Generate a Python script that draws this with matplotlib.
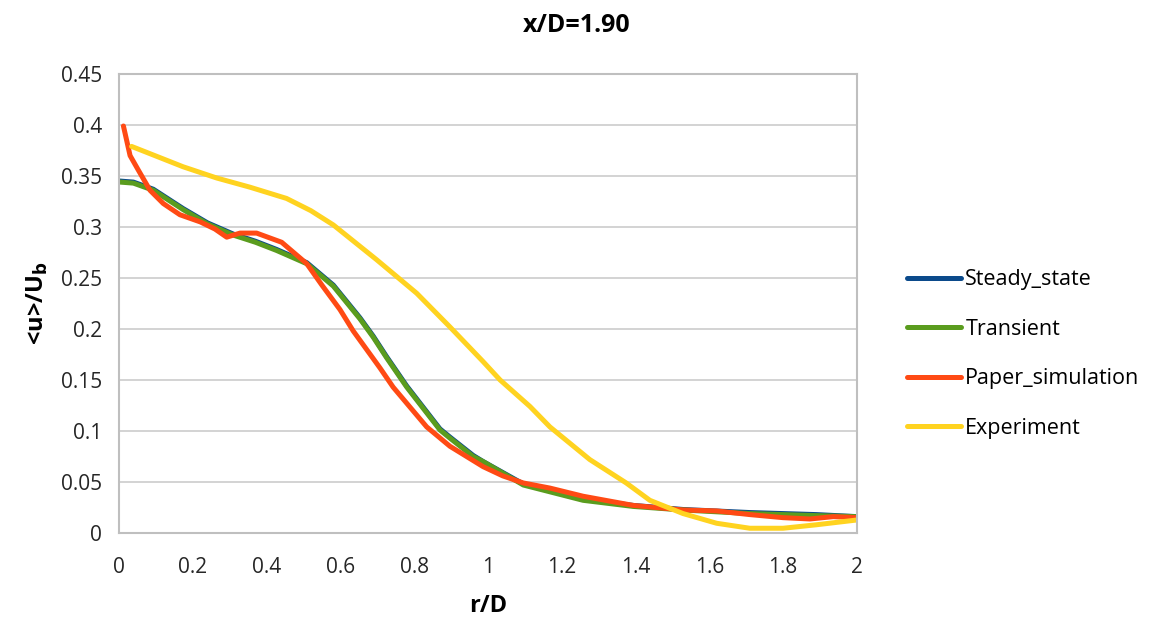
import matplotlib
matplotlib.use("Agg")
import matplotlib.pyplot as plt

# Radial profiles of mean axial velocity at x/D = 1.90
r_steady = [0.003, 0.039, 0.093, 0.174, 0.24, 0.31, 0.37, 0.427, 0.509, 0.581, 0.608, 0.653,
            0.689, 0.725, 0.78, 0.87, 0.897, 0.96, 0.987, 1.096, 1.258, 1.394, 1.529, 1.71,
            1.89, 2.0]
u_steady = [0.345, 0.344, 0.337, 0.318, 0.304, 0.293, 0.286, 0.278, 0.265, 0.243, 0.231, 0.211,
            0.193, 0.173, 0.144, 0.102, 0.094, 0.076, 0.070, 0.048, 0.033, 0.027, 0.023, 0.020,
            0.018, 0.016]

r_transient = [0.003, 0.039, 0.093, 0.174, 0.24, 0.31, 0.37, 0.427, 0.509, 0.581, 0.608, 0.653,
               0.689, 0.725, 0.78, 0.87, 0.897, 0.96, 0.987, 1.096, 1.258, 1.394, 1.529, 1.71,
               1.89, 2.0]
u_transient = [0.344, 0.343, 0.336, 0.317, 0.303, 0.292, 0.285, 0.277, 0.264, 0.242, 0.230, 0.210,
               0.192, 0.172, 0.143, 0.101, 0.093, 0.075, 0.070, 0.047, 0.032, 0.026, 0.0225, 0.019,
               0.017, 0.016]

r_paper = [0.012, 0.03, 0.052, 0.084, 0.12, 0.165, 0.22, 0.26, 0.292, 0.328, 0.373, 0.441,
           0.509, 0.55, 0.599, 0.635, 0.671, 0.707, 0.743, 0.834, 0.897, 0.942, 0.987, 1.04,
           1.096, 1.168, 1.258, 1.394, 1.529, 1.62, 1.71, 1.80, 1.873, 1.936, 2.0]
u_paper = [0.399, 0.370, 0.356, 0.336, 0.323, 0.312, 0.305, 0.298, 0.290, 0.294, 0.294, 0.285,
           0.264, 0.243, 0.219, 0.198, 0.180, 0.162, 0.143, 0.104, 0.085, 0.075, 0.065, 0.056,
           0.049, 0.044, 0.036, 0.027, 0.0225, 0.0216, 0.018, 0.015, 0.0137, 0.016, 0.015]

r_exp = [0.034, 0.174, 0.265, 0.355, 0.454, 0.52, 0.581, 0.698, 0.807, 0.897, 0.987, 1.033,
         1.114, 1.168, 1.276, 1.375, 1.439, 1.529, 1.62, 1.71, 1.80, 1.89, 2.0]
u_exp = [0.379, 0.359, 0.348, 0.339, 0.328, 0.316, 0.302, 0.268, 0.235, 0.202, 0.168, 0.150,
         0.124, 0.104, 0.072, 0.049, 0.032, 0.019, 0.0095, 0.0046, 0.0046, 0.008, 0.0127]

x_ticks = [0, 0.2, 0.4, 0.6, 0.8, 1, 1.2, 1.4, 1.6, 1.8, 2]
x_tick_labels = ["0", "0.2", "0.4", "0.6", "0.8", "1", "1.2", "1.4", "1.6", "1.8", "2"]
y_ticks = [0, 0.05, 0.1, 0.15, 0.2, 0.25, 0.3, 0.35, 0.4, 0.45]
y_tick_labels = ["0", "0.05", "0.1", "0.15", "0.2", "0.25", "0.3", "0.35", "0.4", "0.45"]

plt.rcParams["font.family"] = ["Open Sans", "DejaVu Sans"]

fig = plt.figure(figsize=(11.61, 6.27), dpi=100)
ax = fig.add_axes([0.1025, 0.150, 0.6355, 0.732])

lw = 3.6
ax.plot(r_steady, u_steady, color="#0b4a8b", lw=lw, label="Steady_state", solid_capstyle="round")
ax.plot(r_transient, u_transient, color="#5a9c1e", lw=lw, label="Transient", solid_capstyle="round")
ax.plot(r_paper, u_paper, color="#ff4a14", lw=lw, label="Paper_simulation", solid_capstyle="round")
ax.plot(r_exp, u_exp, color="#ffd320", lw=lw, label="Experiment", solid_capstyle="round")

ax.set_xlim(0, 2)
ax.set_ylim(0, 0.45)
ax.set_xticks(x_ticks)
ax.set_xticklabels(x_tick_labels)
ax.set_yticks(y_ticks)
ax.set_yticklabels(y_tick_labels)
ax.tick_params(axis="both", length=0, labelsize=15, colors="#262626")
ax.tick_params(axis="x", pad=17)
ax.tick_params(axis="y", pad=12)

ax.yaxis.grid(True, color="#d0d0d0", lw=1.3)
ax.set_axisbelow(True)
for s in ax.spines.values():
    s.set_color("#bfbfbf")
    s.set_linewidth(1.5)

ax.set_title("x/D=1.90", fontsize=18, fontweight="bold", pad=30, x=0.62)
ax.set_xlabel("r/D", fontsize=17, fontweight="bold", labelpad=12)
ax.set_ylabel(r"<u>/U$_\mathbf{b}$", fontsize=17, fontweight="bold", labelpad=8)

leg = ax.legend(loc="center left", bbox_to_anchor=(1.042, 0.390), frameon=False,
                fontsize=15.5, handlelength=2.5, handletextpad=0.2, labelspacing=1.32)
for h in leg.get_lines():
    h.set_linewidth(3.6)

fig.savefig("out.png", dpi=100)
